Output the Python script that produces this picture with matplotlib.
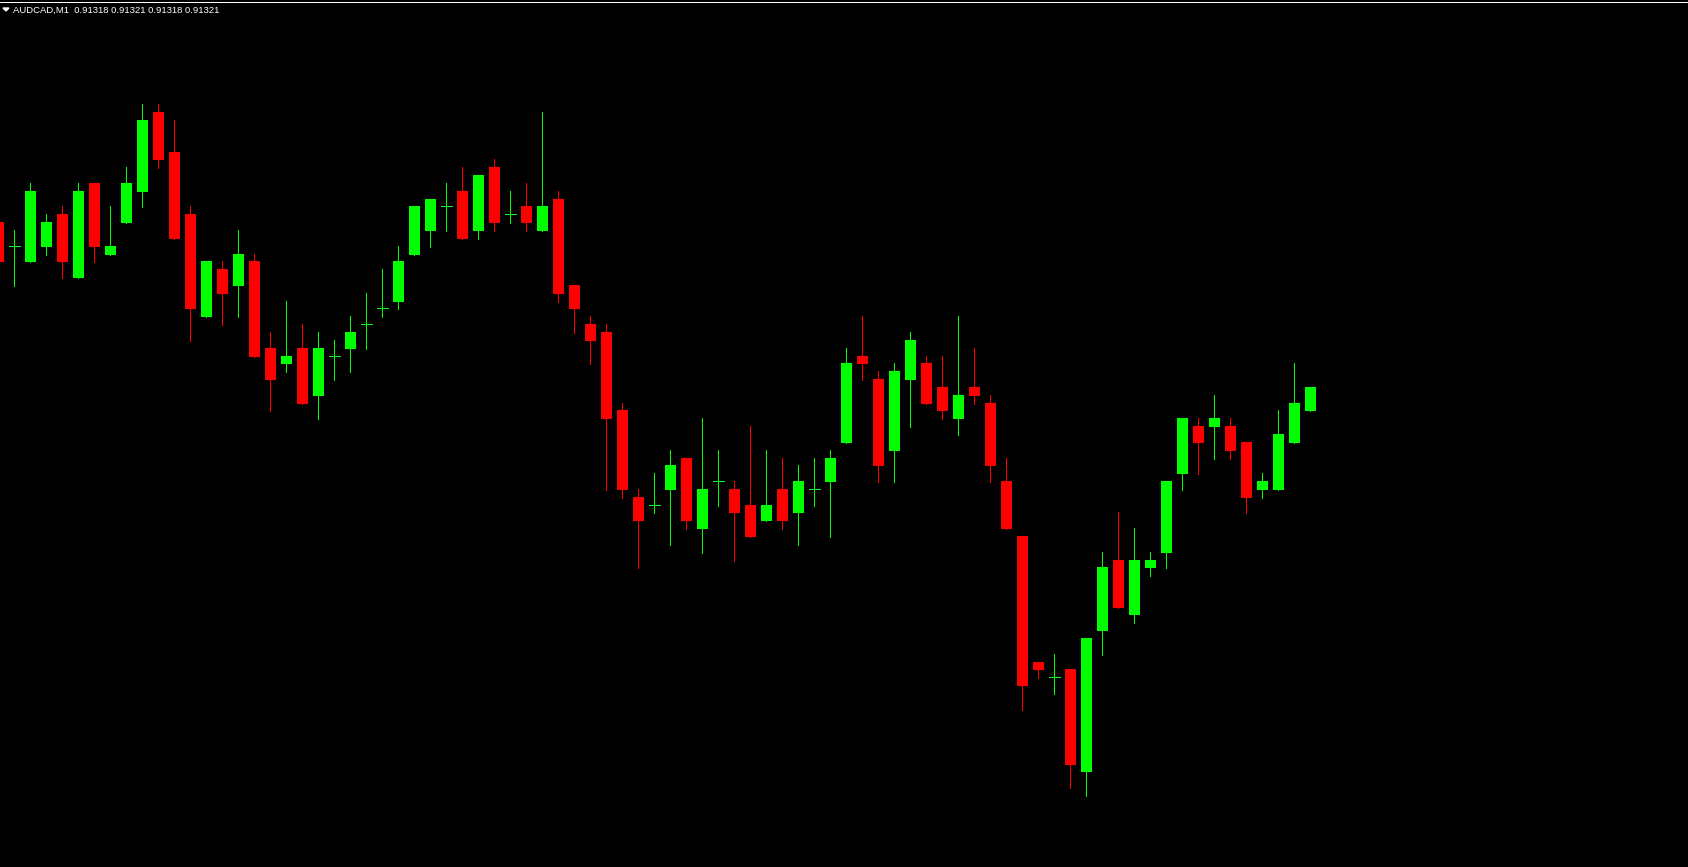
import matplotlib
matplotlib.use("Agg")
import matplotlib.pyplot as plt
from matplotlib.lines import Line2D
from matplotlib.patches import Polygon
import numpy as np

symbol = "AUDCAD,M1"
header_values = ["0.91318", "0.91321", "0.91318", "0.91321"]

opens = [0.913556, 0.913508, 0.913476, 0.913506, 0.913572, 0.913444, 0.913634, 0.913490, 0.913554, 0.913616,
         0.913776, 0.913696, 0.913572, 0.913366, 0.913462, 0.913428, 0.913478, 0.913304, 0.913272, 0.913304,
         0.913208, 0.913288, 0.913302, 0.913352, 0.913384, 0.913396, 0.913490, 0.913538, 0.913588, 0.913618,
         0.913538, 0.913666, 0.913572, 0.913588, 0.913538, 0.913602, 0.913430, 0.913352, 0.913336, 0.913180,
         0.913006, 0.912990, 0.913020, 0.913084, 0.912942, 0.913038, 0.913022, 0.912990, 0.912958, 0.913022,
         0.912974, 0.913022, 0.913036, 0.913114, 0.913288, 0.913242, 0.913098, 0.913240, 0.913274, 0.913226,
         0.913162, 0.913226, 0.913194, 0.913038, 0.912928, 0.912676, 0.912646, 0.912662, 0.912456, 0.912738,
         0.912880, 0.912770, 0.912864, 0.912894, 0.913052, 0.913148, 0.913146, 0.913148, 0.913116, 0.913020,
         0.913020, 0.913114, 0.913178]
highs = [0.913556, 0.913540, 0.913634, 0.913572, 0.913588, 0.913634, 0.913634, 0.913588, 0.913666, 0.913792,
         0.913792, 0.913760, 0.913588, 0.913478, 0.913478, 0.913540, 0.913492, 0.913336, 0.913398, 0.913352,
         0.913336, 0.913320, 0.913368, 0.913414, 0.913462, 0.913508, 0.913588, 0.913602, 0.913634, 0.913666,
         0.913650, 0.913682, 0.913618, 0.913634, 0.913776, 0.913618, 0.913430, 0.913368, 0.913352, 0.913194,
         0.913022, 0.913054, 0.913100, 0.913084, 0.913164, 0.913100, 0.913038, 0.913148, 0.913100, 0.913084,
         0.913070, 0.913084, 0.913100, 0.913304, 0.913368, 0.913258, 0.913274, 0.913336, 0.913288, 0.913288,
         0.913368, 0.913304, 0.913210, 0.913084, 0.912928, 0.912676, 0.912692, 0.912662, 0.912724, 0.912896,
         0.912976, 0.912944, 0.912896, 0.913038, 0.913164, 0.913164, 0.913210, 0.913164, 0.913116, 0.913054,
         0.913180, 0.913274, 0.913226]
lows = [0.913476, 0.913428, 0.913476, 0.913490, 0.913444, 0.913444, 0.913476, 0.913490, 0.913554, 0.913586,
        0.913664, 0.913522, 0.913318, 0.913366, 0.913350, 0.913366, 0.913286, 0.913178, 0.913256, 0.913192,
        0.913162, 0.913240, 0.913256, 0.913302, 0.913366, 0.913382, 0.913490, 0.913506, 0.913538, 0.913522,
        0.913522, 0.913538, 0.913554, 0.913538, 0.913538, 0.913396, 0.913334, 0.913272, 0.913020, 0.913004,
        0.912864, 0.912974, 0.912910, 0.912942, 0.912894, 0.912988, 0.912878, 0.912926, 0.912958, 0.912942,
        0.912910, 0.912988, 0.912926, 0.913114, 0.913240, 0.913036, 0.913036, 0.913146, 0.913192, 0.913162,
        0.913130, 0.913192, 0.913036, 0.912942, 0.912580, 0.912644, 0.912612, 0.912424, 0.912408, 0.912690,
        0.912784, 0.912754, 0.912848, 0.912864, 0.913020, 0.913052, 0.913082, 0.913082, 0.912974, 0.913004,
        0.913020, 0.913114, 0.913178]
closes = [0.913476, 0.913508, 0.913618, 0.913556, 0.913476, 0.913618, 0.913506, 0.913508, 0.913634, 0.913760,
          0.913680, 0.913522, 0.913382, 0.913478, 0.913412, 0.913492, 0.913286, 0.913240, 0.913288, 0.913192,
          0.913304, 0.913288, 0.913336, 0.913352, 0.913384, 0.913478, 0.913588, 0.913602, 0.913588, 0.913522,
          0.913650, 0.913554, 0.913572, 0.913554, 0.913588, 0.913412, 0.913382, 0.913318, 0.913162, 0.913020,
          0.912958, 0.912990, 0.913070, 0.912958, 0.913022, 0.913038, 0.912974, 0.912926, 0.912990, 0.912958,
          0.913038, 0.913022, 0.913084, 0.913274, 0.913272, 0.913068, 0.913258, 0.913320, 0.913192, 0.913178,
          0.913210, 0.913208, 0.913068, 0.912942, 0.912628, 0.912660, 0.912646, 0.912470, 0.912724, 0.912866,
          0.912784, 0.912880, 0.912880, 0.913038, 0.913164, 0.913114, 0.913164, 0.913098, 0.913004, 0.913038,
          0.913132, 0.913194, 0.913226]

W, H = 1688, 867
DPI = 100
PX = 72 / DPI  # one pixel in points
fig = plt.figure(figsize=(W / DPI, H / DPI), dpi=DPI, facecolor="black")
ax = fig.add_axes([0, 0, 1, 1])
ax.set_facecolor("black")
for s in ax.spines.values():
    s.set_visible(False)
ax.set_xticks([])
ax.set_yticks([])

UP = "#00FF00"
DOWN = "#FF0000"
n = len(opens)
x = np.arange(n)
bw = 11 / 16

o = np.array(opens); h = np.array(highs); l = np.array(lows); c = np.array(closes)
up = c > o
dn = c < o
doji = c == o
cols = np.where(c >= o, UP, DOWN)

# wicks
ax.vlines(x, l, h, colors=cols, linewidth=PX, antialiased=False, zorder=2)
# bodies
ax.bar(x[up], (c - o)[up], bottom=o[up], width=bw, color=UP, linewidth=0, antialiased=False, zorder=3)
ax.bar(x[dn], (o - c)[dn], bottom=c[dn], width=bw, color=DOWN, linewidth=0, antialiased=False, zorder=3)
# doji bars
ax.hlines(o[doji], x[doji] - bw / 2, x[doji] + bw / 2, colors=UP, linewidth=PX, antialiased=False, zorder=3)

# pixel-based view: candle i centred at px -2 + 16*i, price scale 0.000002 per px
ax.set_xlim((0 + 2) / 16, (W + 2) / 16)
ax.set_ylim(0.914 - 0.000002 * H, 0.914)

# header
fig.add_artist(Line2D([0, 1], [1 - 1.5 / H, 1 - 1.5 / H], color="white", linewidth=PX,
                      antialiased=False, transform=fig.transFigure))
fig.add_artist(Polygon([[3 / W, 1 - 8 / H], [9 / W, 1 - 8 / H], [6 / W, 1 - 11 / H]],
                       closed=True, color="white", transform=fig.transFigure))
fig.text(13.5 / W, 1 - 12.5 / H, symbol + "  " + " ".join(header_values), color="white",
         fontsize=6.8, family="Liberation Sans", va="baseline", ha="left")

fig.savefig("out.png", dpi=DPI, facecolor="black")
